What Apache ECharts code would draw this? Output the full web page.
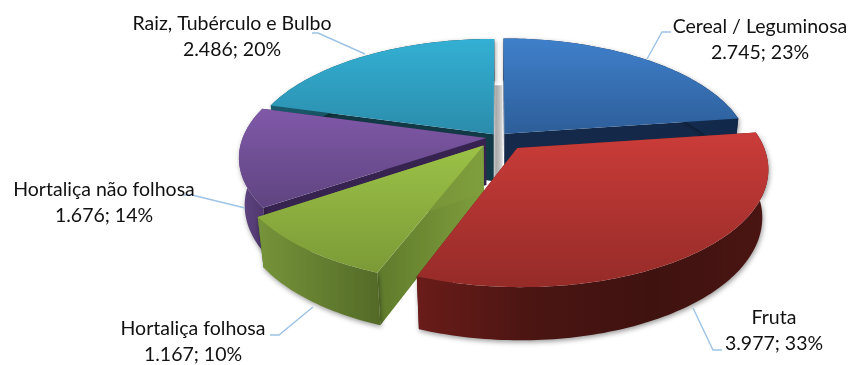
<!DOCTYPE html>
<html>
<head>
<meta charset="utf-8">
<style>html,body{margin:0;padding:0;background:#fff}#chart{width:852px;height:365px}</style>
<script src="https://cdn.jsdelivr.net/npm/echarts@6/dist/echarts.min.js"></script>
</head>
<body>
<div id="chart"></div>
<script>
// Production by food group: value and stated share for each slice, clockwise from 12 o'clock.
const categories = ['Cereal / Leguminosa', 'Fruta', 'Hortaliça folhosa', 'Hortaliça não folhosa', 'Raiz, Tubérculo e Bulbo'];
const values = [2745, 3977, 1167, 1676, 2486];
const shares = [23, 33, 10, 14, 20];

// Slices are painted back to front so nearer ones overlap farther ones.
const paintOrder = [4, 0, 3, 2, 1];
const explode = [0.04, 0.125, 0.095, 0.05, 0.03];

// Projection of the tilted disc: unit-disc coordinates to pixels, with perspective towards the viewer.
const view = { cx: 498, cy: 137, rx: 243, ry: 112, persp: 0.165, depth: 48, sink: 0.022 };

const palettes = [
  { top: ['#3f80cb', '#2d5e99'], wall: ['#1b3354', '#12284a'], face: ['#15294a', '#132848'] },
  { top: ['#ca3c39', '#952b28'], wall: ['#6a1c19', '#4a1512', '#3f1210', '#4a1512'], face: ['#5a1a17', '#5a1a17'] },
  { top: ['#9cc247', '#7b9a37'], wall: ['#76943a', '#536a27'], face: ['#5f7b2c', '#7f9e3c'] },
  { top: ['#8059a9', '#5f4480'], wall: ['#624684', '#4b3468'], face: ['#37234f', '#37234f'] },
  { top: ['#33b0d4', '#2b8cab'], wall: ['#1a5a6c', '#123a46'], face: ['#123a46', '#123a46'] }
];

// Label anchors and leader elbows, in pixels.
const labelBoxes = [
  { x: 760, y1: 27, y2: 53, leader: [[671, 32], [662, 32], [647, 59]] },
  { x: 774, y1: 318, y2: 344, leader: [[722, 350], [713, 350], [693, 308]] },
  { x: 193, y1: 329, y2: 355, leader: [[270, 335], [279, 335], [313, 307]] },
  { x: 104, y1: 190, y2: 216, leader: [[183, 195], [192, 195], [245, 208]] },
  { x: 232, y1: 24, y2: 50, leader: [[312, 33], [318, 33], [365, 54]] }
];

const total = values.reduce((a, b) => a + b, 0);
const spans = [];
values.reduce((start, v) => {
  const end = start + v / total * 2 * Math.PI;
  spans.push([start, end]);
  return end;
}, 0);

function project(u, v, lower) {
  const s = 1 / (1 - view.persp * v + (lower ? view.sink : 0));
  return [
    view.cx + view.rx * u * s,
    view.cy + view.ry * v * s + (lower ? view.depth * s : 0)
  ];
}

function gradient(colors, horizontal) {
  const stops = colors.map((color, i) => ({ offset: i / (colors.length - 1), color }));
  return new echarts.graphic.LinearGradient(0, 0, horizontal ? 1 : 0, horizontal ? 0 : 1, stops);
}

function thousands(n) {
  return String(n).replace(/\B(?=(\d{3})+$)/g, '.');
}

function renderSlice(params, api) {
  const i = api.value(0);
  const [a0, a1] = spans[i];
  const mid = (a0 + a1) / 2;
  const ox = Math.sin(mid) * explode[i];
  const oy = -Math.cos(mid) * explode[i];
  const rim = [];
  const steps = Math.ceil((a1 - a0) / 0.02);
  for (let k = 0; k <= steps; k++) {
    const t = a0 + (a1 - a0) * k / steps;
    rim.push([ox + Math.sin(t), oy - Math.cos(t)]);
  }
  const upper = rim.map(p => project(p[0], p[1], false));
  const lower = rim.map(p => project(p[0], p[1], true));
  const apexUp = project(ox, oy, false);
  const apexLow = project(ox, oy, true);
  const pal = palettes[i];
  const children = [];

  // Sliver of shading visible in the gap behind the 12 o'clock split.
  if (i === 4) {
    const high = project(0, -0.5, false);
    const low = project(0, 0.42, false);
    children.push({
      type: 'rect',
      shape: { x: apexUp[0] - 1, y: high[1], width: 10, height: low[1] - high[1] },
      style: { fill: gradient(['#e8e8e8', '#a8a8a8', '#bdbdbd', '#dcdcdc'], true) }
    });
  }

  // Radial faces.
  [[upper[0], lower[0]], [upper[upper.length - 1], lower[lower.length - 1]]].forEach(pair => {
    children.push({
      type: 'polygon',
      shape: { points: [apexUp, pair[0], pair[1], apexLow] },
      style: { fill: gradient(pal.face, true) }
    });
  });

  // Outer curved wall, with its soft cast shadow.
  children.push({
    type: 'polygon',
    shape: { points: upper.concat(lower.slice().reverse()) },
    style: {
      fill: gradient(pal.wall, true),
      shadowColor: 'rgba(0,0,0,0.4)', shadowBlur: 5, shadowOffsetX: 1, shadowOffsetY: 2
    }
  });

  // Top surface.
  children.push({
    type: 'polygon',
    shape: { points: [apexUp].concat(upper) },
    style: { fill: gradient(pal.top, false) }
  });

  return { type: 'group', children };
}

function renderLabel(params, api) {
  const i = api.value(0);
  const box = labelBoxes[i];
  const font = '19.5px Lato, "Open Sans", sans-serif';
  return {
    type: 'group',
    children: [
      {
        type: 'polyline',
        shape: { points: box.leader },
        style: { stroke: '#9dc3e6', lineWidth: 1.4, fill: null }
      },
      {
        type: 'text',
        style: { text: categories[i], x: box.x, y: box.y1, font, fill: '#111', align: 'center', verticalAlign: 'middle' }
      },
      {
        type: 'text',
        style: { text: thousands(values[i]) + '; ' + shares[i] + '%', x: box.x, y: box.y2, font, fill: '#111', align: 'center', verticalAlign: 'middle' }
      }
    ]
  };
}

const chart = echarts.init(document.getElementById('chart'), null, { renderer: 'canvas' });
chart.setOption({
  animation: false,
  backgroundColor: '#fff',
  series: [
    { type: 'custom', coordinateSystem: 'none', silent: true, renderItem: renderSlice, data: paintOrder.map(i => [i, values[i]]), z: 1 },
    { type: 'custom', coordinateSystem: 'none', silent: true, renderItem: renderLabel, data: categories.map((c, i) => [i]), z: 2 }
  ]
});
</script>
</body>
</html>
